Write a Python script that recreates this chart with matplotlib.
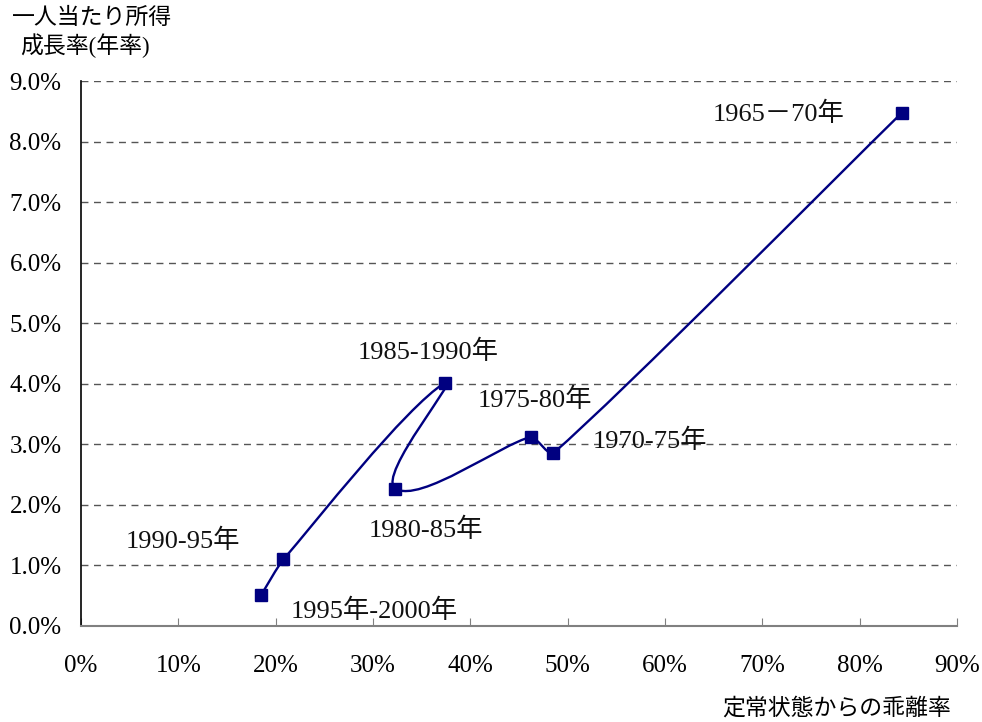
import numpy as np
import matplotlib
matplotlib.use("Agg")
import matplotlib.pyplot as plt
from matplotlib.path import Path
from matplotlib.patches import PathPatch
from matplotlib.ticker import FuncFormatter

FONT = ['Liberation Serif', 'Noto Sans CJK JP']
plt.rcParams['font.family'] = FONT

# data (percent), chronological order
periods = ['1965－70年', '1970-75年', '1975-80年', '1980-85年',
           '1985-1990年', '1990-95年', '1995年-2000年']
deviation = [84.3, 48.5, 46.2, 32.3, 37.4, 20.8, 18.5]   # 定常状態からの乖離率
growth = [8.47, 2.85, 3.12, 2.27, 4.02, 1.10, 0.51]      # 一人当たり所得成長率

# label anchor (left edge, centre) in data units
label_x = [64.9, 52.6, 40.8, 29.6, 28.4, 4.6, 21.5]
label_y = [8.45, 3.05, 3.73, 1.58, 4.52, 1.40, 0.25]

fig = plt.figure(figsize=(9.82, 7.22), dpi=100)
ax = fig.add_axes([81 / 982, 96 / 722, 876 / 982, 545 / 722])
ax.set_xlim(0, 90)
ax.set_ylim(0, 9)

# smoothed line, built in screen space with length-limited tangents
pts = ax.transData.transform(np.column_stack([deviation, growth]))
n = len(pts)
tang = np.zeros_like(pts)
for i in range(n):
    d = pts[min(i + 1, n - 1)] - pts[max(i - 1, 0)]
    tang[i] = d / np.hypot(*d)
verts = [pts[0]]
codes = [Path.MOVETO]
for i in range(n - 1):
    L = np.hypot(*(pts[i + 1] - pts[i])) * 0.2
    verts += [pts[i] + tang[i] * L, pts[i + 1] - tang[i + 1] * L, pts[i + 1]]
    codes += [Path.CURVE4] * 3
verts = ax.transData.inverted().transform(np.array(verts))
ax.add_patch(PathPatch(Path(verts, codes), fill=False, edgecolor='#000080',
                       lw=1.7, zorder=3))
ax.plot(deviation, growth, ls='none', marker='s', ms=9, color='#000080', zorder=4)

for name, lx, ly in zip(periods, label_x, label_y):
    ax.text(lx, ly, name, fontsize=19, family=FONT, ha='left', va='center',
            color='#111111', zorder=5)

# grid and axes
ax.set_yticks(np.arange(0, 10, 1))
ax.set_xticks(np.arange(0, 100, 10))
for yv in range(1, 10):
    ax.axhline(yv, color='#555555', lw=1, ls=(0, (5, 4)), zorder=1)
ax.yaxis.set_major_formatter(FuncFormatter(lambda v, p: f'{v:.1f}%'))
ax.xaxis.set_major_formatter(FuncFormatter(lambda v, p: f'{v:.0f}%'))
ax.tick_params(axis='y', length=0, pad=14, labelsize=18)
ax.tick_params(axis='x', direction='in', length=6, color='#808080',
               pad=21, labelsize=18)
for s in ['top', 'right']:
    ax.spines[s].set_visible(False)
ax.spines['left'].set_color('black')
ax.spines['left'].set_linewidth(1.2)
ax.spines['bottom'].set_color('#808080')
ax.spines['bottom'].set_linewidth(1.5)

fig.text(12 / 982, 1 - 18 / 722, '一人当たり所得', fontsize=16.5, family=FONT,
         ha='left', va='center')
fig.text(20 / 982, 1 - 46 / 722, '成長率(年率)', fontsize=16.5, family=FONT,
         ha='left', va='center')
fig.text(837 / 982, 1 - 709 / 722, '定常状態からの乖離率', fontsize=16.5,
         family=FONT, ha='center', va='center')

fig.savefig('out.png', dpi=100)
